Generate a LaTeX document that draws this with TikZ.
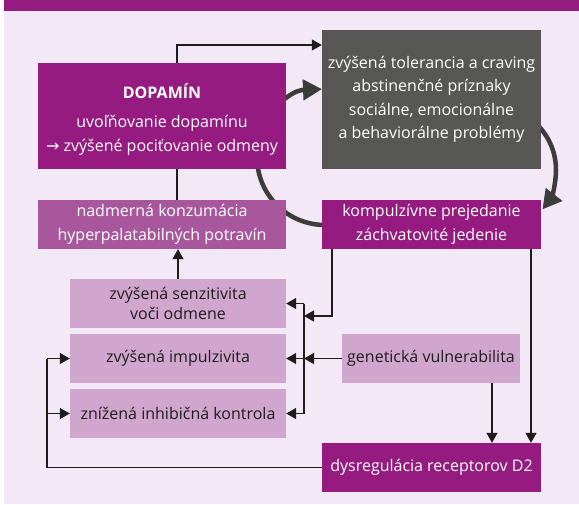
\documentclass[tikz,border=0pt]{standalone}
\usepackage{fontspec}
\setmainfont{Open Sans}
\newfontfamily\symf{DejaVu Sans}
\usetikzlibrary{arrows.meta}
\definecolor{bgc}{HTML}{F3E8F5}
\definecolor{dpur}{HTML}{951B81}
\definecolor{mpur}{HTML}{A9579D}
\definecolor{lpur}{HTML}{D0A6CF}
\definecolor{gry}{HTML}{575756}
\definecolor{arcc}{HTML}{3C3C3B}
\definecolor{ink}{HTML}{1D1D1B}
\pgfdeclarelayer{back}
\pgfdeclarelayer{mid}
\pgfsetlayers{back,mid,main}
\begin{document}
\begin{tikzpicture}[x=1pt,y=-1pt,
  box/.style={rectangle, inner sep=0pt, align=center, font=\fontsize{16}{23.5}\selectfont},
  darkbox/.style={box, fill=dpur, text=white},
  midbox/.style={box, fill=mpur, text=white},
  lightbox/.style={box, fill=lpur, text=ink},
  greybox/.style={box, fill=gry, text=white},
  conn/.style={draw=ink, line width=1.3pt},
  connarr/.style={conn, -{Triangle[length=10pt,width=11pt]}},
  cyc/.style={draw=arcc, line width=4.5pt, -{Triangle[length=19pt,width=20pt]}},
]
\useasboundingbox (0,0) rectangle (579,504);
\begin{pgfonlayer}{back}
  \fill[white] (0,0) rectangle (579,504);
  \fill[bgc] (4,0) rectangle (579,504);
  \fill[dpur] (4,0) rectangle (579,11);
\end{pgfonlayer}

% nodes
\node[darkbox, minimum width=248pt, minimum height=106pt] (dop) at (162,116)
  {\rule{0pt}{22pt}\textbf{DOPAMÍN}\\[5.5pt] uvoľňovanie dopamínu\\{\symf →} zvýšené pociťovanie odmeny};
\node[midbox, minimum width=248pt, minimum height=49pt] (nad) at (162,224.5)
  {nadmerná konzumácia\\hyperpalatabilných potravín};
\node[greybox, minimum width=219pt, minimum height=139pt] (gray) at (431.5,99.5)
  {zvýšená tolerancia a craving\\abstinenčné príznaky\\sociálne, emocionálne\\a behaviorálne problémy};
\node[darkbox, minimum width=219pt, minimum height=49pt] (komp) at (431.5,224.5)
  {kompulzívne prejedanie\\záchvatovité jedenie};
\node[lightbox, minimum width=216pt, minimum height=49pt] (senz) at (178,303.5)
  {zvýšená senzitivita\\[-3pt]voči odmene};
\node[lightbox, minimum width=216pt, minimum height=49pt] (imp) at (178,358.5)
  {zvýšená impulzivita};
\node[lightbox, minimum width=216pt, minimum height=49pt] (inh) at (178,413.5)
  {znížená inhibičná kontrola};
\node[lightbox, minimum width=178pt, minimum height=49pt] (gen) at (431,358.5)
  {genetická vulnerabilita};
\node[darkbox, minimum width=219pt, minimum height=49pt] (dys) at (431.5,467.5)
  {dysregulácia receptorov D2};

\coordinate (top) at (177,45);
\coordinate (bus) at (304,0);
\coordinate (k1) at (332,316);
\coordinate (k2) at (531,0);
\coordinate (k3) at (492,0);
\coordinate (lb) at (47,0);
\coordinate (cl) at (325,157);
\coordinate (cr) at (492,170);

\begin{pgfonlayer}{mid}
  % cycle arcs
  \draw[cyc] (cl) ++(92.5:68) arc[start angle=92.5, end angle=267.5, radius=68];
  \draw[cyc] (cr) ++(-90:64) arc[start angle=-90, end angle=38, radius=64];
  % thin connectors
  \draw[connarr] (top |- nad.north) -- (top) -- (top -| gray.west);
  \draw[connarr] (senz.north) -- (senz.north |- nad.south);
  \draw[conn] (bus |- senz.east) -- (bus |- inh.east);
  \draw[connarr] (bus |- senz.east) -- (senz.east);
  \draw[connarr] (bus |- imp.east) -- (imp.east);
  \draw[connarr] (bus |- inh.east) -- (inh.east);
  \draw[connarr] (k1 |- komp.south) -- (k1) -- (bus |- k1);
  \draw[connarr] (gen.west) -- (bus |- gen.west);
  \draw[connarr] (k2 |- komp.south) -- (k2 |- dys.north);
  \draw[connarr] (k3 |- gen.south) -- (k3 |- dys.north);
  \draw[conn] (dys.west) -- (lb |- dys.west) -- (lb |- imp.west);
  \draw[connarr] (lb |- imp.west) -- (imp.west);
  \draw[connarr] (lb |- inh.west) -- (inh.west);
\end{pgfonlayer}
\end{tikzpicture}
\end{document}
